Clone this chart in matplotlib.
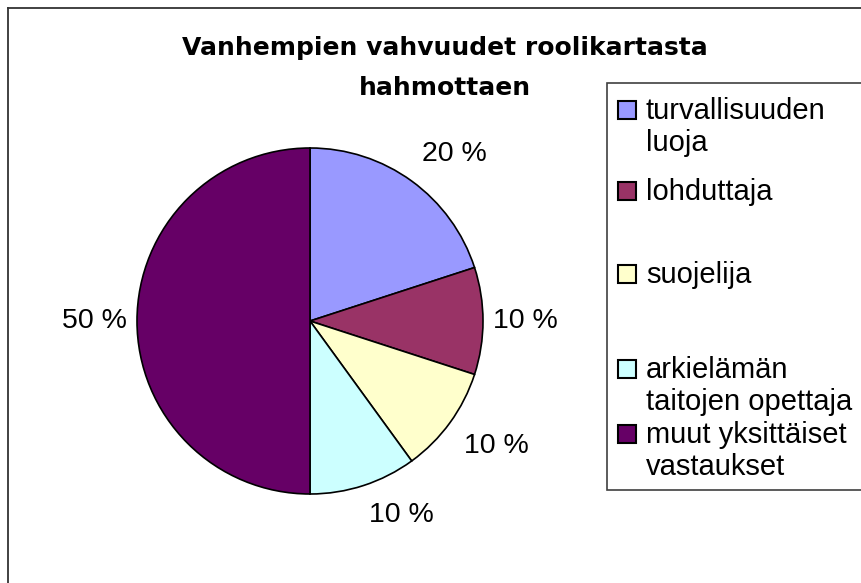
import numpy as np
import matplotlib
matplotlib.use("Agg")
import matplotlib.pyplot as plt
from matplotlib.patches import Rectangle
from matplotlib.lines import Line2D

plt.rcParams['font.family'] = ['Liberation Sans', 'DejaVu Sans']

# ---- data ----
title_lines = ["Vanhempien vahvuudet roolikartasta", "hahmottaen"]
categories = ["turvallisuuden\nluoja", "lohduttaja", "suojelija",
              "arkielämän\ntaitojen opettaja", "muut yksittäiset\nvastaukset"]
values = [20, 10, 10, 10, 50]
colors = ["#9999FF", "#993366", "#FFFFCC", "#CCFFFF", "#660066"]

W, H = 861, 583
DPI = 100
fig = plt.figure(figsize=(W / DPI, H / DPI), dpi=DPI)
fig.patch.set_facecolor("white")

def fx(px):
    return px / W

def fy(py):
    return 1 - py / H

# outer chart border (top & left visible)
fig.add_artist(Line2D([fx(8), fx(8)], [fy(8), fy(H + 5)], color="#333333", lw=1.3))
fig.add_artist(Line2D([fx(8), fx(W + 5)], [fy(8), fy(8)], color="#333333", lw=1.3))

# pie axes: centre (310, 321), radius 173 px
cx, cy, r = 310, 321, 173
k = 1.5
half = r * k
ax = fig.add_axes([fx(cx - half), fy(cy + half), 2 * half / W, 2 * half / H])
wedges, _ = ax.pie(values, colors=colors, startangle=90, counterclock=False,
                   radius=1.0, wedgeprops=dict(edgecolor="black", linewidth=1.2))
ax.set_xlim(-k, k)
ax.set_ylim(-k, k)
ax.set_aspect("equal")
ax.axis("off")

# percentage labels, Excel-like placement
total = sum(values)
for w, v in zip(wedges, values):
    ang = np.deg2rad((w.theta1 + w.theta2) / 2)
    c, s = np.cos(ang), np.sin(ang)
    diag = abs(c) > 0.15 and abs(s) > 0.15
    d = 1.1 if diag else 1.06
    ha = "left" if c > 0.15 else ("right" if c < -0.15 else "center")
    va = "bottom" if s > 0.15 else ("top" if s < -0.15 else "center")
    ax.text(d * c, d * s, f"{round(100 * v / total)} %", ha=ha, va=va,
            fontsize=20.5, color="black", clip_on=False)

# title
title_font = dict(family=["DejaVu Sans"], fontsize=18, fontweight="bold")
fig.text(fx(445), fy(55), title_lines[0], ha="center", va="baseline", **title_font)
fig.text(fx(445), fy(95), title_lines[1], ha="center", va="baseline", **title_font)

# legend box
fig.add_artist(Rectangle((fx(607), fy(490)), fx(W + 20) - fx(607), fy(83) - fy(490),
                         transform=fig.transFigure, facecolor="white",
                         edgecolor="#404040", linewidth=1.2))
marker_centres = [110, 191, 274, 369, 434]
line_step = 32
for lab, col, mc in zip(categories, colors, marker_centres):
    fig.add_artist(Rectangle((fx(618), fy(mc + 9)), 18 / W, 18 / H,
                             transform=fig.transFigure, facecolor=col,
                             edgecolor="black", linewidth=1.5))
    for i, line in enumerate(lab.split("\n")):
        fig.text(fx(646), fy(mc + 9 + i * line_step), line, ha="left",
                 va="baseline", fontsize=21)

fig.savefig("out.png", dpi=DPI)
